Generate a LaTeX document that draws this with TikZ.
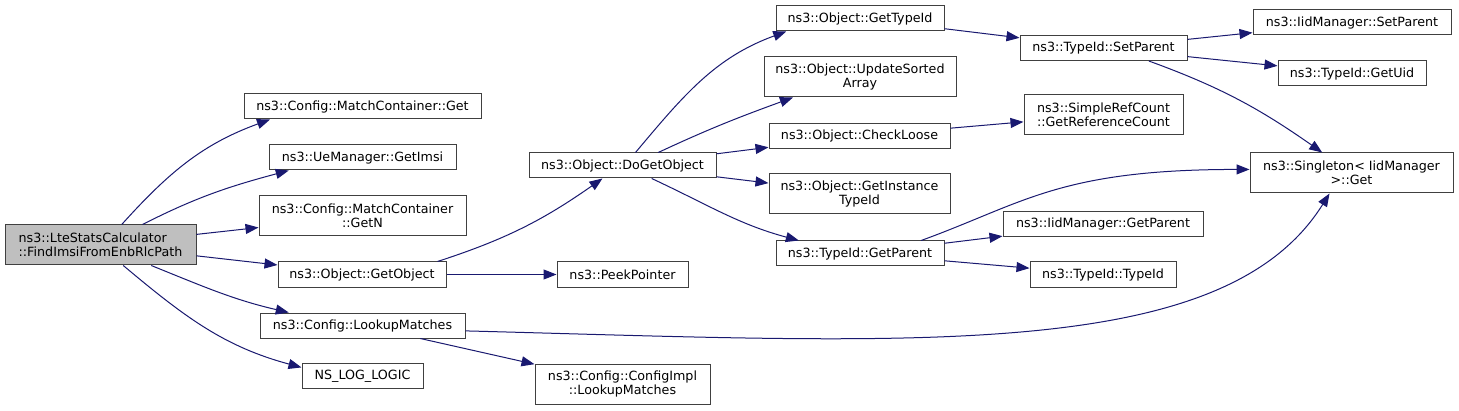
\documentclass[tikz,border=0pt]{standalone}
\usepackage{fontspec}
\setmainfont{DejaVu Sans}
\usetikzlibrary{arrows.meta}
\definecolor{cedge}{HTML}{191970}
\definecolor{cframe}{HTML}{404040}
\definecolor{croot}{HTML}{BFBFBF}
\tikzset{
  every picture/.style={font=\fontsize{12.7}{14.3}\selectfont, line width=1pt},
  fn/.style={draw=cframe, fill=white, align=center, inner sep=0pt, minimum height=25pt},
  fn2/.style={fn, minimum height=40pt},
  call/.style={-{Triangle[length=13pt, width=10pt]}, draw=cedge, line width=1pt},
}

\begin{document}
\begin{tikzpicture}[x=1pt, y=1pt]
  \fill[white] (0,0) rectangle (1459,410);
  \useasboundingbox (0,0) rectangle (1459,410);
  % first column: the caller
  \node[fn2, fill=croot, align=left, minimum width=191pt] (calc) at (100.5,165) {ns3::LteStatsCalculator\\::FindImsiFromEnbRlcPath};
  % direct callees
  \node[fn, minimum width=237pt] (mcget) at (362.5,303.5) {ns3::Config::MatchContainer::Get};
  \node[fn, minimum width=187pt] (getimsi) at (362.5,252.5) {ns3::UeManager::GetImsi};
  \node[fn2, minimum width=207pt] (getn) at (362.5,194) {ns3::Config::MatchContainer\\::GetN};
  \node[fn, minimum width=168pt] (getobject) at (362,135.5) {ns3::Object::GetObject};
  \node[fn, minimum width=205pt] (lookup) at (362.5,84.5) {ns3::Config::LookupMatches};
  \node[fn, minimum width=121pt] (nslog) at (362.5,34) {NS\_LOG\_LOGIC};
  % third column
  \node[fn, minimum width=187pt] (dogetobject) at (622.5,244.5) {ns3::Object::DoGetObject};
  \node[fn, minimum width=131pt] (peek) at (622.5,135.5) {ns3::PeekPointer};
  \node[fn2, minimum width=175pt] (configimpl) at (622.5,26) {ns3::Config::ConfigImpl\\::LookupMatches};
  % fourth column
  \node[fn, minimum width=168pt] (gettypeid) at (860,391.5) {ns3::Object::GetTypeId};
  \node[fn2, minimum width=192pt] (updatesorted) at (860,333) {ns3::Object::UpdateSorted\\Array};
  \node[fn, minimum width=181pt] (checkloose) at (859.5,274) {ns3::Object::CheckLoose};
  \node[fn2, minimum width=181pt] (getinstance) at (859.5,216) {ns3::Object::GetInstance\\TypeId};
  \node[fn, minimum width=168pt] (getparent) at (860,156.5) {ns3::TypeId::GetParent};
  % fifth column
  \node[fn, minimum width=167pt] (setparent) at (1103.5,362) {ns3::TypeId::SetParent};
  \node[fn2, minimum width=159pt] (refcount) at (1103.5,295) {ns3::SimpleRefCount\\::GetReferenceCount};
  \node[fn, minimum width=200pt] (iidgetparent) at (1103,186) {ns3::IidManager::GetParent};
  \node[fn, minimum width=146pt] (typeidctor) at (1103,135.5) {ns3::TypeId::TypeId};
  % last column
  \node[fn, minimum width=198pt] (iidsetparent) at (1352,387.5) {ns3::IidManager::SetParent};
  \node[fn, minimum width=148pt] (getuid) at (1352,336.5) {ns3::TypeId::GetUid};
  \node[fn2, minimum width=203pt] (singleton) at (1351.5,237) {ns3::Singleton< IidManager\\>::Get};
  % straight calls
  \foreach \a/\b in {calc/getn, calc/getobject, getobject/peek, lookup/configimpl,
    dogetobject/checkloose, dogetobject/getinstance, gettypeid/setparent, checkloose/refcount,
    getparent/iidgetparent, getparent/typeidctor, setparent/iidsetparent, setparent/getuid}
    \draw[call] (\a) -- (\b);
  % curved calls
  \draw[call] (calc.44) to[out=48, in=200] (mcget.188);
  \draw[call] (calc.26) to[out=27, in=195] (getimsi.190);
  \draw[call] (calc.338) to[out=338, in=167] (lookup.170);
  \draw[call] (calc.318) to[out=320, in=165] (nslog.172);
  \draw[call] ([xshift=-9pt]getobject.north east) to[out=18, in=215] (dogetobject.213);
  \draw[call] (lookup.357) to[out=-1.5, in=238, out distance=450pt, in distance=200pt] (singleton.223);
  \draw[call] (dogetobject.45) to[out=50, in=200] (gettypeid.190);
  \draw[call] (dogetobject.20) to[out=25, in=200] (updatesorted.197);
  \draw[call] (dogetobject.336) to[out=335, in=165] (getparent.168);
  \draw[call] (getparent.12) to[out=20, in=180, out distance=110pt, in distance=190pt] (singleton.178);
  \draw[call] (setparent.344) to[out=340, in=145] (singleton.145);
\end{tikzpicture}
\end{document}
